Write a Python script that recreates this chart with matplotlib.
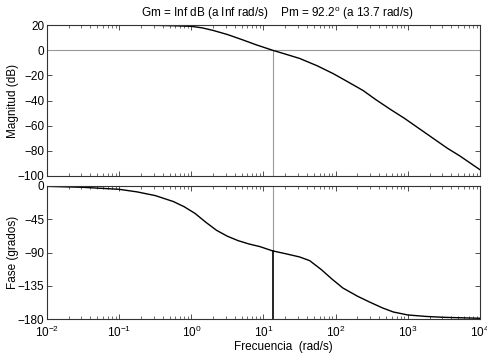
# Margin plot (Bode con margenes de ganancia y fase)
import matplotlib
matplotlib.use("Agg")
import matplotlib.pyplot as plt
import numpy as np
from matplotlib.ticker import LogLocator, NullFormatter

plt.rcParams['font.family'] = ['Liberation Sans', 'DejaVu Sans']
plt.rcParams['mathtext.fontset'] = 'custom'
plt.rcParams['mathtext.rm'] = 'Liberation Sans'
plt.rcParams['font.size'] = 8.5

# valores: log10(w) y magnitud (dB)
logw_mag = [-2.0, -1.0, -0.5, -0.25, 0.0, 0.15, 0.3, 0.5, 0.7, 0.9, 1.126,
            1.3, 1.5, 1.75, 1.97, 2.15, 2.38, 2.55, 2.75, 2.95, 3.1, 3.25,
            3.4, 3.55, 3.72, 3.86, 4.0]
mag_db = [20, 20, 19.8, 19.5, 19.0, 17.8, 15.8, 12.5, 8.5, 4.3, 0.0,
          -3.0, -6.5, -12.5, -18.7, -24.5, -32.0, -39.0, -46.7, -54.0, -60.0, -66.0,
          -72.0, -78.0, -84.0, -89.5, -95.0]

# log10(w) y fase (grados)
logw_ph = [-2.0, -1.5, -1.0, -0.75, -0.5, -0.25, -0.1, 0.05, 0.2, 0.35, 0.5,
           0.65, 0.8, 0.95, 1.126, 1.3, 1.5, 1.64, 1.8, 1.95, 2.1, 2.3, 2.47,
           2.65, 2.8, 3.0, 3.25, 3.5, 4.0]
phase = [-0.5, -1.8, -4.5, -8, -13, -21, -28, -37, -49, -60, -68,
         -74, -78.5, -82, -87.8, -91.5, -96, -101, -113, -126, -138, -149, -157,
         -165, -170.5, -174.5, -176.5, -177.7, -179]

wc = 13.7      # frecuencia de cruce de ganancia
pm = 92.2      # margen de fase
ph_c = pm - 180

w_mag = 10.0 ** np.array(logw_mag)
w_ph = 10.0 ** np.array(logw_ph)

fig = plt.figure(figsize=(4.87, 3.61), dpi=100)
ax1 = fig.add_axes([0.0965, 0.5125, 0.889, 0.418])
ax2 = fig.add_axes([0.0965, 0.1163, 0.889, 0.3685])

grey = '0.6'
edge = '#333333'

# magnitud
ax1.axhline(0, color=grey, lw=0.8)
ax1.plot([wc, wc], [-100, 0], color=grey, lw=0.8)
ax1.semilogx(w_mag, mag_db, 'k-', lw=1.0)
ax1.set_ylim(-100, 20)
ax1.set_yticks([20, 0, -20, -40, -60, -80, -100])
ax1.set_ylabel("Magnitud (dB)")
ax1.xaxis.set_major_formatter(NullFormatter())
ax1.xaxis.set_minor_formatter(NullFormatter())
ax1.text(0.533, 1.02, "Gm = Inf dB (a Inf rad/s)    Pm = 92.2$^\\mathrm{o}$ (a 13.7 rad/s)",
         transform=ax1.transAxes, ha='center', va='bottom')

# fase
ax2.plot([wc, wc], [ph_c, 0], color=grey, lw=0.8)
ax2.plot([wc, wc], [-180, ph_c], color='k', lw=1.2)
ax2.semilogx(w_ph, phase, 'k-', lw=1.0)
ax2.set_ylim(-180, 0)
ax2.set_yticks([0, -45, -90, -135, -180])
ax2.set_ylabel("Fase (grados)")
ax2.set_xlabel("Frecuencia  (rad/s)")
ax2.xaxis.set_label_coords(0.545, -0.165)
ax2.tick_params(axis='x', which='major', pad=4)

for ax in (ax1, ax2):
    ax.set_xlim(1e-2, 1e4)
    ax.xaxis.set_major_locator(LogLocator(base=10, numticks=10))
    ax.xaxis.set_minor_locator(LogLocator(base=10, subs=np.arange(2, 10), numticks=10))
    ax.tick_params(which='both', direction='in', top=True, right=True, color=edge)
    ax.tick_params(axis='y', pad=2)
    ax.tick_params(which='major', length=3.5, width=0.6)
    ax.tick_params(which='minor', length=2, width=0.5)
    for s in ax.spines.values():
        s.set_color(edge)
        s.set_linewidth(0.8)
    ax.yaxis.set_label_coords(-0.065, 0.5)

fig.savefig("out.png", dpi=100)
